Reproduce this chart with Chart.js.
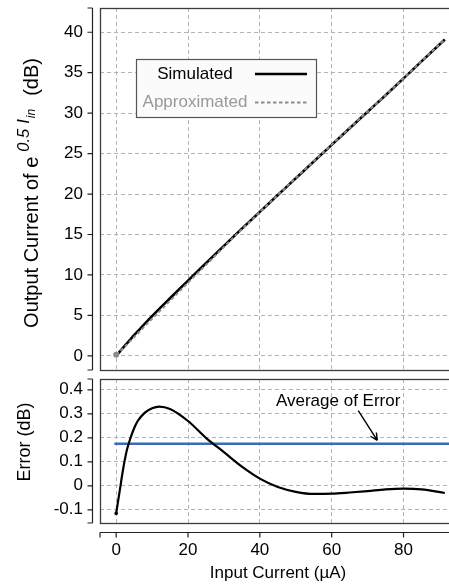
<!DOCTYPE html>
<html>
<head>
<meta charset="utf-8">
<script src="https://cdn.jsdelivr.net/npm/chart.js@4.4.1/dist/chart.umd.min.js"></script>
<style>
  html, body { margin: 0; padding: 0; background: #fff; overflow: hidden; }
  #wrap { position: relative; width: 449px; height: 584px; overflow: hidden; }
  .panel { position: absolute; left: 0; width: 470px; }
  #panelSalida { top: 0; height: 375px; }
  #panelError { top: 375px; height: 209px; }
</style>
</head>
<body>
<div id="wrap">
  <div class="panel" id="panelSalida"><canvas id="graficoSalida"></canvas></div>
  <div class="panel" id="panelError"><canvas id="graficoError"></canvas></div>
</div>
<script>
// 1. DATOS
const inputCurrent   = [0, 1, 2, 3, 4, 5, 6, 8, 10, 12, 15, 20, 25, 30, 35, 40, 45, 50, 55, 60, 65, 70, 75, 80, 85, 91.5];
const simulatedDb    = [0, 0.52, 1.04, 1.55, 2.05, 2.55, 3.03, 3.98, 4.9, 5.8, 7.12, 9.3, 11.45, 13.6, 15.72, 17.8, 19.88, 21.95, 24.02, 26.08, 28.13, 30.18, 32.22, 34.3, 36.4, 39.1];
const approximatedDb = [0.12, 0.54, 0.97, 1.4, 1.85, 2.31, 2.76, 3.68, 4.58, 5.47, 6.8, 9.03, 11.25, 13.46, 15.64, 17.77, 19.89, 21.98, 24.05, 26.11, 28.16, 30.2, 32.24, 34.31, 36.42, 39.13];
const errorDb        = [-0.115, -0.02, 0.075, 0.15, 0.2, 0.24, 0.27, 0.305, 0.323, 0.33, 0.32, 0.27, 0.2, 0.14, 0.08, 0.03, -0.005, -0.025, -0.034, -0.033, -0.028, -0.022, -0.015, -0.012, -0.015, -0.03];
const averageError   = 0.175;
const averageSpan    = [-0.5, 96];

const currentTicks     = [0, 20, 40, 60, 80];
const outputTicks      = [0, 5, 10, 15, 20, 25, 30, 35, 40];
const errorTicks       = [-0.1, 0, 0.1, 0.2, 0.3, 0.4];
const errorTickLabels  = ['-0.1', '0', '0.1', '0.2', '0.3', '0.4'];

const FUENTE = "'Liberation Sans', Arial, Helvetica, sans-serif";
Chart.defaults.font.family = FUENTE;
Chart.defaults.color = '#000';

const puntos = (ys) => inputCurrent.map((x, i) => ({ x: x, y: ys[i] }));
const soloPrimero = (r) => (c) => (c.dataIndex === 0 ? r : 0);

// rejilla punteada gris, igual en todos los ejes
const rejilla = { color: '#b3b3b3', lineWidth: 1, drawTicks: false };
const borde = { display: false, dash: [4, 3] };

// quita el relleno automático que Chart.js deja para las etiquetas
function sinRelleno(s) {
    s.paddingTop = 0; s.paddingBottom = 0; s.paddingLeft = 0; s.paddingRight = 0;
}

// 2. TEXTO GIRADO CON PARTES (superíndice / subíndice)
function textoGirado(ctx, partes, cx, cy) {
    ctx.save();
    ctx.translate(cx, cy);
    ctx.rotate(-Math.PI / 2);
    ctx.textAlign = 'left';
    ctx.textBaseline = 'alphabetic';
    ctx.fillStyle = '#000';
    let total = 0;
    partes.forEach(p => { ctx.font = p.font; p.w = ctx.measureText(p.text).width; total += p.w + (p.gap || 0); });
    let x = -total / 2;
    partes.forEach(p => {
        x += p.gap || 0;
        ctx.font = p.font;
        ctx.fillText(p.text, x, p.dy || 0);
        x += p.w;
    });
    ctx.restore();
}

// 3. PLUGIN: caja, ejes separados al estilo R, títulos, leyenda y nota
const marcoR = {
    id: 'marcoR',
    afterDraw(chart, args, o) {
        const { ctx, chartArea: a } = chart;
        const sx = chart.scales.x, sy = chart.scales.y;
        ctx.save();

        // caja del panel
        ctx.strokeStyle = '#3c3c3c';
        ctx.lineWidth = 1.3;
        ctx.strokeRect(a.left + 0.5, a.top + 0.5, a.right - a.left, a.bottom - a.top);

        // eje y separado
        ctx.strokeStyle = '#222';
        ctx.lineWidth = 1.2;
        const ex = Math.round(a.left - 8) + 0.5;
        ctx.beginPath();
        ctx.moveTo(ex, a.top); ctx.lineTo(ex, a.bottom);
        [a.top, a.bottom].concat(sy.ticks.map(t => sy.getPixelForValue(t.value))).forEach(p => {
            ctx.moveTo(ex, p); ctx.lineTo(ex - 5, p);
        });
        ctx.stroke();

        // eje x separado (solo abajo)
        if (o.ejeX) {
            const ey = Math.round(a.bottom + 9) + 0.5;
            ctx.beginPath();
            ctx.moveTo(a.left, ey); ctx.lineTo(a.right, ey);
            [a.left].concat(sx.ticks.map(t => sx.getPixelForValue(t.value))).forEach(p => {
                ctx.moveTo(p, ey); ctx.lineTo(p, ey + 5);
            });
            ctx.stroke();
            ctx.font = '17px ' + FUENTE;
            ctx.fillStyle = '#000';
            ctx.textAlign = 'center';
            ctx.textBaseline = 'middle';
            ctx.fillText(o.tituloX, 278, chart.height - 11);
        }

        // título del eje y
        textoGirado(ctx, o.tituloY, o.tituloPos[0], o.tituloPos[1]);

        // leyenda en recuadro
        if (o.leyenda) {
            const L = o.leyenda;
            ctx.fillStyle = '#fbfbfb';
            ctx.fillRect(L.x, L.y, L.w, L.h);
            ctx.strokeStyle = '#555';
            ctx.lineWidth = 1.2;
            ctx.strokeRect(L.x + 0.5, L.y + 0.5, L.w, L.h);
            ctx.font = '17px ' + FUENTE;
            ctx.textAlign = 'center';
            ctx.textBaseline = 'middle';
            chart.data.datasets.forEach((ds, i) => {
                const fy = L.y + 15 + i * 28.6;
                ctx.fillStyle = L.colores[i];
                ctx.fillText(ds.label, L.x + 59, fy);
                ctx.strokeStyle = ds.borderColor;
                ctx.lineWidth = ds.borderWidth;
                ctx.setLineDash(ds.borderDash || []);
                ctx.beginPath();
                ctx.moveTo(L.x + 119, fy); ctx.lineTo(L.x + 171, fy);
                ctx.stroke();
                ctx.setLineDash([]);
            });
        }

        // nota con flecha
        if (o.nota) {
            const n = o.nota;
            const px = v => sx.getPixelForValue(v), py = v => sy.getPixelForValue(v);
            ctx.font = '17px ' + FUENTE;
            ctx.fillStyle = '#000';
            ctx.textAlign = 'center';
            ctx.textBaseline = 'middle';
            ctx.fillText(n.texto, px(n.en[0]), py(n.en[1]));
            const x0 = px(n.desde[0]), y0 = py(n.desde[1]), x1 = px(n.hasta[0]), y1 = py(n.hasta[1]);
            const ang = Math.atan2(y1 - y0, x1 - x0);
            ctx.strokeStyle = '#000';
            ctx.lineWidth = 1.4;
            ctx.beginPath();
            ctx.moveTo(x0, y0); ctx.lineTo(x1, y1);
            [ang + Math.PI - 0.45, ang + Math.PI + 0.45].forEach(t => {
                ctx.moveTo(x1, y1); ctx.lineTo(x1 + 8 * Math.cos(t), y1 + 8 * Math.sin(t));
            });
            ctx.stroke();
        }
        ctx.restore();
    }
};

function ejeX(mostrar) {
    return {
        type: 'linear', min: -4.5, max: 96,
        afterBuildTicks: s => { s.ticks = currentTicks.map(v => ({ value: v })); },
        afterFit: s => { s.height = mostrar ? 61 : 0; sinRelleno(s); },
        ticks: { display: mostrar, autoSkip: false, maxRotation: 0, padding: 17, font: { size: 17 }, color: '#000' },
        grid: rejilla, border: borde
    };
}

function ejeY(min, max, valores, etiquetas) {
    return {
        type: 'linear', min: min, max: max,
        afterBuildTicks: s => { s.ticks = valores.map(v => ({ value: v })); },
        afterFit: s => { s.width = 100; sinRelleno(s); },
        ticks: { autoSkip: false, padding: 17, font: { size: 17 }, color: '#000',
                 callback: (v, i) => etiquetas[i] },
        grid: rejilla, border: borde
    };
}

// 4. PANEL SUPERIOR: salida en dB
document.addEventListener('DOMContentLoaded', () => {
    new Chart(document.getElementById('graficoSalida'), {
        type: 'line',
        data: {
            datasets: [{
                label: 'Simulated',
                data: puntos(simulatedDb),
                borderColor: '#000', borderWidth: 2.6,
                pointRadius: 0, cubicInterpolationMode: 'monotone', order: 1
            }, {
                label: 'Approximated',
                data: puntos(approximatedDb),
                borderColor: '#8c8c8c', borderWidth: 2, borderDash: [3.5, 2.5],
                pointRadius: soloPrimero(3), pointBackgroundColor: '#8c8c8c', pointBorderWidth: 0,
                cubicInterpolationMode: 'monotone', order: 0
            }]
        },
        options: {
            responsive: true, maintainAspectRatio: false, animation: false, devicePixelRatio: 1,
            layout: { padding: { left: 0, right: 9, top: 8, bottom: 5 } },
            scales: {
                x: ejeX(false),
                y: ejeY(-1.75, 43, outputTicks, outputTicks.map(String))
            },
            plugins: {
                legend: { display: false }, tooltip: { enabled: false },
                marcoR: {
                    tituloPos: [38, 193],
                    tituloY: [
                        { text: 'Output Current of e', font: '20px ' + FUENTE },
                        { text: '0.5', font: 'italic 16.5px ' + FUENTE, dy: -9, gap: 5 },
                        { text: 'I', font: 'italic 16.5px ' + FUENTE, dy: -9, gap: 5 },
                        { text: 'in', font: 'italic 12px ' + FUENTE, dy: -3, gap: 1 },
                        { text: '(dB)', font: '20px ' + FUENTE, gap: 13 }
                    ],
                    leyenda: { x: 136, y: 59, w: 180, h: 58, colores: ['#000', '#999'] }
                }
            }
        },
        plugins: [marcoR]
    });

    // 5. PANEL INFERIOR: error en dB
    new Chart(document.getElementById('graficoError'), {
        type: 'line',
        data: {
            datasets: [{
                label: 'Error',
                data: puntos(errorDb),
                borderColor: '#000', borderWidth: 2.2,
                pointRadius: soloPrimero(1.8), pointBackgroundColor: '#000', pointBorderWidth: 0,
                cubicInterpolationMode: 'monotone', order: 0
            }, {
                label: 'Average of Error',
                data: averageSpan.map(x => ({ x: x, y: averageError })),
                borderColor: '#3d6bb3', borderWidth: 2.5, pointRadius: 0, order: 1
            }]
        },
        options: {
            responsive: true, maintainAspectRatio: false, animation: false, devicePixelRatio: 1,
            layout: { padding: { left: 0, right: 9, top: 3, bottom: 0 } },
            scales: {
                x: ejeX(true),
                y: ejeY(-0.155, 0.445, errorTicks, errorTickLabels)
            },
            plugins: {
                legend: { display: false }, tooltip: { enabled: false },
                marcoR: {
                    ejeX: true,
                    tituloX: 'Input Current (\u00b5A)',
                    tituloPos: [30, 67],
                    tituloY: [{ text: 'Error (dB)', font: '18px ' + FUENTE }],
                    nota: { texto: 'Average of Error', en: [61.8, 0.354], desde: [67.4, 0.313], hasta: [72.7, 0.189] }
                }
            }
        },
        plugins: [marcoR]
    });
});
</script>
</body>
</html>
